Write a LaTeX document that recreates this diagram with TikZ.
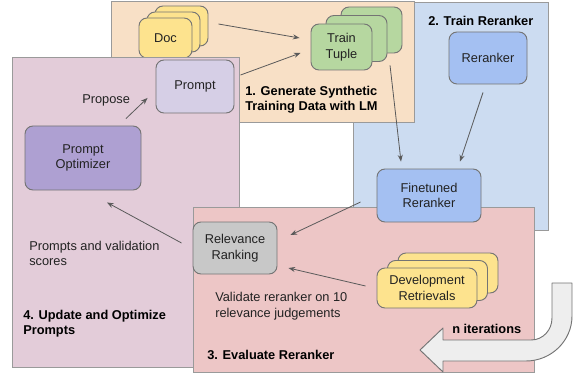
\documentclass[tikz,border=0pt]{standalone}
\usepackage{fontspec}
\setmainfont{Liberation Sans}
\usetikzlibrary{arrows.meta}
\definecolor{pOrange}{HTML}{F8E0C6}
\definecolor{pBlue}{HTML}{CCDCF1}
\definecolor{pMauve}{HTML}{E3CCD9}
\definecolor{pRed}{HTML}{EDC6C6}
\definecolor{cYellow}{HTML}{FDE38E}
\definecolor{cGreen}{HTML}{B6D7A0}
\definecolor{cBlue}{HTML}{A4C0F2}
\definecolor{cLav}{HTML}{D6CFE6}
\definecolor{cPurple}{HTML}{AEA0D2}
\definecolor{cGray}{HTML}{C8C8C8}
\definecolor{cArrow}{HTML}{EEEEEE}
\definecolor{edgeBox}{HTML}{747474}
\definecolor{edgePanel}{HTML}{9A9A9A}
\definecolor{arrGray}{HTML}{5A5A5A}
\definecolor{txt}{HTML}{222222}
\begin{document}
\begin{tikzpicture}[x=0.75pt,y=-0.75pt,
  font=\fontsize{9.6}{11.6}\selectfont, text=txt,
  panel/.style={draw=edgePanel, line width=0.7pt},
  box/.style={draw=edgeBox, rounded corners=6pt, align=center, inner sep=0pt, line width=0.7pt},
  arr/.style={draw=arrGray, line width=0.6pt, -{Stealth[length=5pt,width=3.8pt]}},
  lbl/.style={anchor=west, inner sep=0pt, align=left},
  ttl/.style={anchor=west, inner sep=0pt, align=left, font=\fontsize{9.6}{11.6}\selectfont\bfseries, text=black}]
\useasboundingbox (0,0) rectangle (574,374);
% panel 2 (blue)
\draw[panel, fill=pBlue] (353,2) rectangle (548,230);
% panel 1 (orange)
\draw[panel, fill=pOrange] (111,1) rectangle (414,122);
% Doc stack
\node[box, fill=cYellow, minimum width=39.75pt, minimum height=30pt] (doc3) at (181.5,26) {};
\node[box, fill=cYellow, minimum width=39.75pt, minimum height=30pt] (doc2) at (173.5,32) {};
\node[box, fill=cYellow, minimum width=39.75pt, minimum height=30pt] (doc1) at (165.5,38) {Doc};
% Train tuple stack
\node[box, fill=cGreen, minimum width=45.75pt, minimum height=34.5pt] (tt3) at (371.5,30) {};
\node[box, fill=cGreen, minimum width=45.75pt, minimum height=34.5pt] (tt2) at (356.5,38.5) {};
\node[box, fill=cGreen, minimum width=45.75pt, minimum height=34.5pt] (tt1) at (341.5,47) {Train\\Tuple};
% panel 4 (mauve)
\draw[panel, fill=pMauve] (12,57) rectangle (239,367);
% panel 3 (red)
\draw[panel, fill=pRed] (193,207) rectangle (534,372);
% boxes
\node[box, fill=cLav, minimum width=58.5pt, minimum height=39.75pt] (prompt) at (195,86.5) {Prompt};
\node[box, fill=cPurple, minimum width=87pt, minimum height=48pt] (opt) at (83,158) {Prompt\\Optimizer};
\node[box, fill=cBlue, minimum width=58.5pt, minimum height=39pt] (rr) at (488,58) {Reranker};
\node[box, fill=cBlue, minimum width=78pt, minimum height=39.75pt] (fine) at (429,195.5) {Finetuned\\Reranker};
\node[box, fill=cGray, minimum width=63pt, minimum height=39pt] (rel) at (235,248) {Relevance\\Ranking};
% Dev stack
\node[box, fill=cYellow, minimum width=75pt, minimum height=30pt] (dev3) at (448,273) {};
\node[box, fill=cYellow, minimum width=75pt, minimum height=30pt] (dev2) at (437.5,280.5) {};
\node[box, fill=cYellow, minimum width=75pt, minimum height=30pt] (dev1) at (427,288) {Development\\Retrievals};
% big iteration arrow
\draw[draw=edgeBox, fill=cArrow, line width=0.7pt, line join=round]
  (552,283) -- (572,283) -- (572,316) .. controls (572,341) and (551,361) .. (526,361)
  -- (443,361) -- (443,372) -- (420,350) -- (443,328) -- (443,340) -- (531,340)
  .. controls (543,340) and (552,330) .. (552,318) -- cycle;
% titles and labels
\node[ttl] (t1) at (245,99.5) {1. Generate Synthetic\\Training Data with LM};
\node[ttl] (t2) at (428,21) {2. Train Reranker};
\node[ttl] (t3) at (207,355) {3. Evaluate Reranker};
\node[ttl] (t4) at (23,323.5) {4. Update and Optimize\\Prompts};
\node[ttl] (tn) at (452,329) {n iterations};
\node[lbl] (lprop) at (82,100) {Propose};
\node[lbl] (lscore) at (29,253.5) {Prompts and validation\\scores};
\node[lbl] (lval) at (215,306) {Validate reranker on 10\\relevance judgements};
% connectors
\draw[arr] ([xshift=7.5pt,yshift=1.5pt]doc3.east) -- ([xshift=-8.25pt,yshift=6.75pt]tt1.west);
\draw[arr] ([xshift=4.5pt,yshift=8.6pt]prompt.east) -- ([xshift=-7.5pt,yshift=-4.5pt]tt1.west);
\draw[arr] ([xshift=13.9pt,yshift=-9pt]tt3.south) -- ([xshift=-21pt,yshift=5.25pt]fine.north);
\draw[arr] ([xshift=-3.75pt,yshift=-6pt]rr.south) -- ([xshift=23.25pt,yshift=5.25pt]fine.north);
\draw[arr] ([xshift=-12pt,yshift=-4.9pt]fine.west) -- ([xshift=9.75pt,yshift=9.75pt]rel.east);
\draw[arr] ([xshift=-8.25pt,yshift=1.5pt]dev1.west) -- ([xshift=8.25pt,yshift=-15pt]rel.east);
\draw[arr] ([xshift=-8.25pt,yshift=3.75pt]rel.west) -- ([xshift=18pt,yshift=-9pt]opt.south);
\draw[arr] ([xshift=32.25pt,yshift=5.25pt]opt.north) -- ([xshift=-6pt,yshift=-8.6pt]prompt.west);
\end{tikzpicture}
\end{document}
